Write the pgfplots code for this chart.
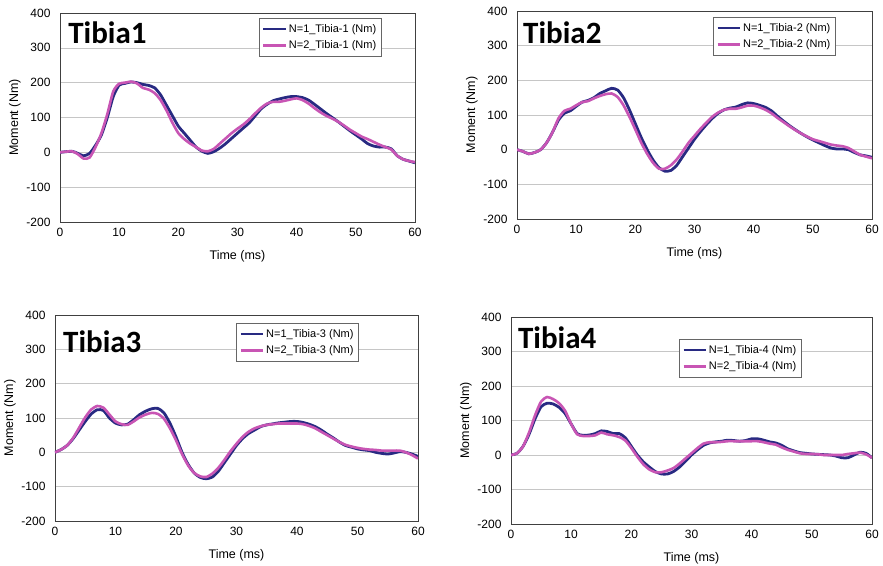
\documentclass[border=0pt]{standalone}
\usepackage{pgfplots}
\pgfplotsset{compat=1.18}
\usepackage{fontspec}
\setmainfont{Liberation Sans}
\newfontfamily\titlefont{Carlito}
\definecolor{navy}{RGB}{40,42,130}
\definecolor{pinkm}{RGB}{200,85,180}

\pgfplotstableread{
t a b
0 0 0
2 3 3
3 -3 -5
4 -10 -18
5 -3 -15
6 20 15
7 50 55
8 100 110
9 160 175
10 193 197
11 198 200
12 202 203
13 200 198
14 195 185
15 192 180
16 185 170
17 165 150
18 135 120
19 105 85
20 75 55
21 55 38
22 35 25
23 15 15
24 3 5
25 -3 3
26 2 10
27 12 25
28 25 40
29 40 55
30 55 68
31 70 80
32 85 95
33 105 112
34 125 128
35 138 140
36 148 145
37 153 145
38 157 148
39 160 152
40 160 155
41 157 150
42 150 140
43 138 127
44 125 115
45 112 105
46 100 97
47 88 88
48 75 77
49 62 65
50 50 55
51 38 45
52 25 38
53 18 30
54 15 22
55 15 15
56 10 8
57 -10 -10
58 -20 -20
59 -25 -25
60 -30 -28
}\tibiaA

\pgfplotstableread{
t a b
0 0 0
1 -5 -5
2 -12 -12
3 -8 -8
4 0 0
5 20 20
6 50 50
7 85 90
8 105 112
9 112 118
10 125 128
11 137 137
12 142 140
13 150 148
14 162 155
15 170 160
16 177 162
17 172 152
18 150 128
19 115 95
20 75 58
21 35 20
22 0 -12
23 -30 -38
24 -52 -55
25 -62 -55
26 -60 -45
27 -45 -28
28 -20 -5
29 5 20
30 30 40
31 52 60
32 72 78
33 90 95
34 105 107
35 115 115
36 120 118
37 123 118
38 130 122
39 135 127
40 133 127
41 128 122
42 122 115
43 112 105
44 97 92
45 83 80
46 70 68
47 58 57
48 47 47
49 37 38
50 28 30
51 20 25
52 12 20
53 5 15
54 2 12
55 2 10
56 0 5
57 -8 -5
58 -15 -15
59 -18 -20
60 -22 -25
}\tibiaB

\pgfplotstableread{
t a b
0 0 0
1 8 8
2 20 20
3 40 42
4 65 72
5 90 102
6 112 125
7 124 135
8 122 130
9 100 110
10 85 90
11 80 82
12 82 80
13 95 90
14 110 102
15 120 110
16 127 115
17 128 112
18 115 98
19 85 70
20 45 35
21 0 -5
22 -35 -38
23 -60 -60
24 -73 -70
25 -77 -72
26 -72 -62
27 -55 -45
28 -30 -22
29 -5 3
30 20 25
31 40 45
32 55 60
33 65 70
34 75 76
35 80 80
36 83 82
37 86 84
38 88 84
39 90 84
40 90 84
41 87 82
42 82 77
43 75 70
44 65 60
45 53 50
46 42 40
47 30 30
48 20 22
49 15 17
50 10 13
51 7 10
52 5 8
53 0 7
54 -3 5
55 -5 5
56 -2 5
57 2 5
58 0 0
59 -5 -8
60 -12 -18
}\tibiaC

\pgfplotstableread{
t a b
0 0 0
1 5 5
2 25 25
3 60 65
4 105 115
5 140 155
6 150 168
7 148 162
8 138 150
9 120 128
10 90 90
11 62 60
12 57 55
13 58 55
14 62 57
15 70 65
16 68 60
17 62 57
18 62 52
19 50 42
20 25 20
21 0 -5
22 -20 -27
23 -35 -42
24 -48 -50
25 -55 -50
26 -55 -45
27 -48 -38
28 -35 -25
29 -18 -10
30 0 5
31 15 20
32 28 33
33 35 37
34 38 37
35 40 38
36 43 40
37 42 40
38 40 40
39 42 40
40 47 40
41 47 40
42 43 37
43 38 33
44 35 30
45 28 22
46 18 15
47 12 10
48 7 5
49 5 3
50 3 3
51 2 2
52 1 0
53 0 0
54 -3 0
55 -8 0
56 -8 3
57 0 5
58 8 7
59 5 2
60 -8 -8
}\tibiaD

\pgfplotsset{
  tibia/.style={
    scale only axis,
    xmin=0, xmax=60, ymin=-200, ymax=400,
    xtick={0,10,...,60}, ytick={-200,-100,...,400},
    major tick length=0pt,
    ymajorgrids,
    grid style={gray!45, line width=0.6pt},
    axis line style={black!75, line width=0.8pt},
    tick label style={font=\fontsize{12}{14}\selectfont},
    /pgf/number format/assume math mode=true,
    yticklabel style={xshift=-6pt},
    xticklabel style={yshift=-3pt},
    xlabel={Time (ms)}, ylabel={Moment (Nm)},
    every axis x label/.style={at={(axis description cs:0.5,0)}, yshift=-34pt, anchor=center, font=\fontsize{12.5}{14}\selectfont},
    every axis y label/.style={at={(axis description cs:0,0.5)}, xshift=-45pt, anchor=center, rotate=90, font=\fontsize{12.5}{14}\selectfont},
    legend cell align=left,
    legend style={font=\fontsize{11}{13}\selectfont, draw=black!60, line width=0.6pt,
      inner xsep=3pt, inner ysep=4pt, row sep=3pt},
    legend image code/.code={\draw[#1, line width=2.8pt] (0pt,0pt) -- (22pt,0pt);},
  },
  s1/.style={navy, line width=2.8pt, smooth, tension=0.4},
  s2/.style={pinkm, line width=2.6pt, smooth, tension=0.4},
}
\tikzset{ttl/.style={anchor=base west, inner sep=0pt, font=\titlefont\bfseries\fontsize{31}{32}\selectfont}}

\begin{document}
\begin{tikzpicture}[x=1pt,y=1pt]
\useasboundingbox (0,0) rectangle (883,565);

\begin{axis}[tibia, at={(60pt,343pt)}, anchor=south west, width=355pt, height=209pt,
  legend style={at={(0.56,0.976)}, anchor=north west}]
\addplot[s1] table[x=t,y=a] {\tibiaA};
\addplot[s2] table[x=t,y=b] {\tibiaA};
\legend{N=1\_Tibia-1 (Nm), N=2\_Tibia-1 (Nm)}
\node[ttl] at (rel axis cs:0.023,0.856) {Tibia1};
\end{axis}

\begin{axis}[tibia, at={(517pt,346pt)}, anchor=south west, width=355pt, height=208pt,
  legend style={at={(0.552,0.971)}, anchor=north west}]
\addplot[s1] table[x=t,y=a] {\tibiaB};
\addplot[s2] table[x=t,y=b] {\tibiaB};
\legend{N=1\_Tibia-2 (Nm), N=2\_Tibia-2 (Nm)}
\node[ttl] at (rel axis cs:0.017,0.846) {Tibia2};
\end{axis}

\begin{axis}[tibia, at={(55pt,44pt)}, anchor=south west, width=363pt, height=206pt,
  legend style={at={(0.499,0.961)}, anchor=north west}]
\addplot[s1] table[x=t,y=a] {\tibiaC};
\addplot[s2] table[x=t,y=b] {\tibiaC};
\legend{N=1\_Tibia-3 (Nm), N=2\_Tibia-3 (Nm)}
\node[ttl] at (rel axis cs:0.022,0.816) {Tibia3};
\end{axis}

\begin{axis}[tibia, at={(511pt,41pt)}, anchor=south west, width=361pt, height=207pt,
  legend style={at={(0.465,0.894)}, anchor=north west}]
\addplot[s1] table[x=t,y=a] {\tibiaD};
\addplot[s2] table[x=t,y=b] {\tibiaD};
\legend{N=1\_Tibia-4 (Nm), N=2\_Tibia-4 (Nm)}
\node[ttl] at (rel axis cs:0.019,0.850) {Tibia4};
\end{axis}
\end{tikzpicture}
\end{document}
